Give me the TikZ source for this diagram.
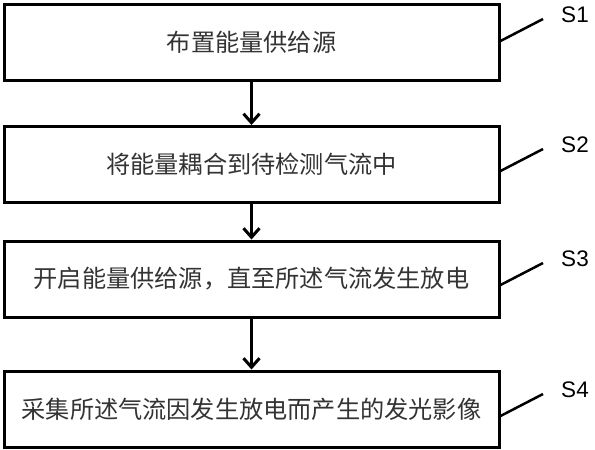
\documentclass[tikz,border=0pt]{standalone}
\usepackage{fontspec}
\setmainfont{Liberation Sans}
\newfontfamily\cjk{Noto Sans CJK SC}
\usetikzlibrary{arrows.meta,calc}
\begin{document}
\begin{tikzpicture}[x=1pt,y=-1pt,
  stepbox/.style={draw=black,line width=3pt,minimum width=495pt,minimum height=76pt,inner sep=0pt,
    font=\cjk\fontsize{24.2}{29}\selectfont,text=black!80},
  flow/.style={line width=3pt,-{Straight Barb[length=9pt,width=16pt,line width=3pt]}},
  leader/.style={line width=2.5pt},
  steplabel/.style={font=\fontsize{22.5}{26}\selectfont,inner sep=0pt,text=black}]
\useasboundingbox (0,0) rectangle (595,450);
\node[stepbox] (b1) at (251.5,42) {布置能量供给源};
\node[stepbox] (b2) at (251.5,164.5) {将能量耦合到待检测气流中};
\node[stepbox] (b3) at (251.5,279) {开启能量供给源，直至所述气流发生放电};
\node[stepbox] (b4) at (251.5,409) {采集所述气流因发生放电而产生的发光影像};
\draw[flow] (b1.south) -- (b2.north);
\draw[flow] (b2.south) -- (b3.north);
\draw[flow] (b3.south) -- (b4.north);
\coordinate (e1) at (543,19);
\coordinate (e2) at (543,149);
\coordinate (e3) at (543,263);
\coordinate (e4) at (543,394);
\draw[leader] ($(b1.east)+(0,-1)$) -- (e1);
\draw[leader] ($(b2.east)+(0,6.5)$) -- (e2);
\draw[leader] ($(b3.east)+(0,6)$) -- (e3);
\draw[leader] ($(b4.east)+(0,7)$) -- (e4);
\node[steplabel] (s1) at (575,15) {S1};
\node[steplabel] (s2) at (575,145) {S2};
\node[steplabel] (s3) at (575,259) {S3};
\node[steplabel] (s4) at (575,390) {S4};
\end{tikzpicture}
\end{document}
